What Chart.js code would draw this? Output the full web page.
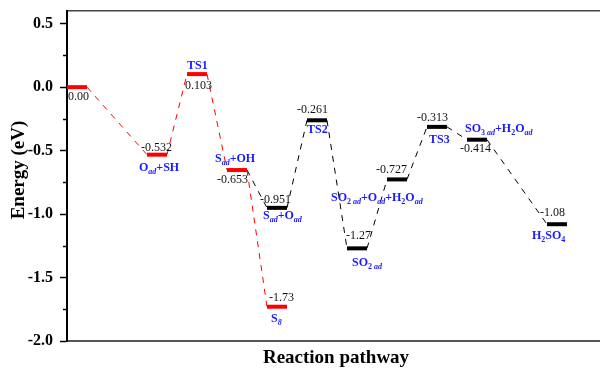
<!DOCTYPE html>
<html>
<head>
<meta charset="utf-8">
<script src="https://cdn.jsdelivr.net/npm/chart.js@4"></script>
<style>
  html, body { margin: 0; padding: 0; background: #fff; overflow: hidden; }
  #wrap { width: 600px; height: 372px; position: relative; }
</style>
</head>
<body>
<div id="wrap"><canvas id="c"></canvas></div>
<script>
// Energy profile of the reaction pathway (eV)
const stepPos = [0, 4, 6, 8, 10, 10, 12, 14, 16, 18, 20, 24];
const energy = [0.00, -0.532, 0.103, -0.653, -1.73, -0.951, -0.261, -1.27, -0.727, -0.313, -0.414, -1.08];
const energyText = ['0.00', '-0.532', '0.103', '-0.653', '-1.73', '-0.951', '-0.261', '-1.27', '-0.727', '-0.313', '-0.414', '-1.08'];
// _{..} upright subscript, _[..] italic subscript
const species = ['', 'O_[ad]+SH', 'TS1', 'S_[ad]+OH', 'S_[8]', 'S_[ad]+O_[ad]', 'TS2', 'SO_{2}_[ ad]',
  'SO_{2}_[ ad]+O_[ad]+H_{2}O_[ad]', 'TS3', 'SO_{3}_[ ad]+H_{2}O_[ad]', 'H_{2}SO_{4}'];
const redRoute = [0, 1, 2, 3, 4];
const blackRoute = [3, 5, 6, 7, 8, 9, 10, 11];
const yTicks = [-2.0, -1.5, -1.0, -0.5, 0.0, 0.5];
const yMinor = [-1.75, -1.25, -0.75, -0.25, 0.25];

// label placement relative to each level's left end (px)
const valueOffset = [[1, 10], [-6, -7], [-2, 12], [-10, 10], [2, -9], [-7, -8], [-10, -10], [-1, -13], [-11, -10], [-10, -9], [-7, 9], [-7, -11]];
const speciesOffset = [null, [-8, 12], [0, -9], [-12, -12], [4, 11], [-4, 7], [0, 9], [5, 14], [-56, 18], [2, 12], [-2, -12], [-15, 11]];

const RED = '#ff0000', BLACK = '#000000', BLUE = '#1a1aff';
const SERIF = "'Liberation Serif', 'Times New Roman', serif";
Chart.defaults.font.family = SERIF;

const isRed = i => i <= 4;
const datasets = [];

function addConnectors(route, color) {
  for (let k = 0; k + 1 < route.length; k++) {
    const a = route[k], b = route[k + 1];
    datasets.push({
      data: [{ x: stepPos[a] + 1, y: energy[a] }, { x: stepPos[b], y: energy[b] }],
      borderColor: color, borderWidth: 1, borderDash: [6, 6],
      pointRadius: 0, order: 2
    });
  }
}
addConnectors(redRoute, RED);
addConnectors(blackRoute, BLACK);

energy.forEach((e, i) => {
  datasets.push({
    data: [{ x: stepPos[i], y: e }, { x: stepPos[i] + 1, y: e }],
    borderColor: isRed(i) ? RED : BLACK, borderWidth: 4,
    pointRadius: 0, order: 1
  });
});

function parseRich(str) {
  const segs = [];
  const re = /_\{([^}]*)\}|_\[([^\]]*)\]|([^_]+)/g;
  let m;
  while ((m = re.exec(str))) {
    if (m[1] !== undefined) segs.push({ t: m[1], sub: true, it: false });
    else if (m[2] !== undefined) segs.push({ t: m[2], sub: true, it: true });
    else segs.push({ t: m[3], sub: false, it: false });
  }
  return segs;
}

function drawRich(ctx, str, x, yMid) {
  const base = yMid + 4;
  ctx.textBaseline = 'alphabetic';
  ctx.textAlign = 'left';
  ctx.fillStyle = BLUE;
  let cx = x;
  for (const s of parseRich(str)) {
    ctx.font = (s.it ? 'italic ' : '') + 'bold ' + (s.sub ? 8 : 12) + 'px ' + SERIF;
    ctx.fillText(s.t, cx, s.sub ? base + 3 : base);
    cx += ctx.measureText(s.t).width;
  }
}

const annotate = {
  id: 'annotate',
  afterDraw(chart) {
    const ctx = chart.ctx;
    const xs = chart.scales.x, ys = chart.scales.y;
    const area = chart.chartArea;
    ctx.save();
    // minor ticks on the energy axis
    ctx.strokeStyle = '#000';
    ctx.lineWidth = 1.5;
    yMinor.forEach(v => {
      const py = Math.round(ys.getPixelForValue(v)) + 0.5;
      ctx.beginPath();
      ctx.moveTo(area.left - 4, py);
      ctx.lineTo(area.left, py);
      ctx.stroke();
    });
    // level values and species names
    energy.forEach((e, i) => {
      const x0 = xs.getPixelForValue(stepPos[i]);
      const y0 = ys.getPixelForValue(e);
      ctx.font = '12px ' + SERIF;
      ctx.fillStyle = '#111';
      ctx.textAlign = 'left';
      ctx.textBaseline = 'middle';
      ctx.fillText(energyText[i], x0 + valueOffset[i][0], y0 + valueOffset[i][1]);
      if (species[i]) drawRich(ctx, species[i], x0 + speciesOffset[i][0], y0 + speciesOffset[i][1]);
    });
    // axis titles
    ctx.fillStyle = '#000';
    ctx.font = 'bold 19px ' + SERIF;
    ctx.textAlign = 'center';
    ctx.textBaseline = 'middle';
    ctx.fillText('Reaction pathway', 336, 358);
    ctx.translate(19, 170);
    ctx.rotate(-Math.PI / 2);
    ctx.fillText('Energy (eV)', 0, 0);
    ctx.restore();
  }
};

new Chart(document.getElementById('c'), {
  type: 'line',
  data: { datasets },
  options: {
    responsive: true,
    maintainAspectRatio: false,
    animation: false,
    layout: { padding: { left: 0, top: 11, right: 0, bottom: 0 } },
    plugins: { legend: { display: false }, tooltip: { enabled: false } },
    scales: {
      x: {
        type: 'linear', min: 0, max: 26.65,
        ticks: { display: false },
        grid: { display: false },
        border: { display: true, color: '#555', width: 2 },
        afterFit: s => { s.height = 31; s.paddingLeft = 0; s.paddingRight = 0; }
      },
      x2: {
        type: 'linear', position: 'top', min: 0, max: 26.65,
        ticks: { display: false },
        grid: { display: false },
        border: { display: true, color: '#444', width: 1.5 },
        afterFit: s => { s.height = 0; s.paddingLeft = 0; s.paddingRight = 0; }
      },
      y: {
        type: 'linear', min: -2.0, max: 0.6,
        afterBuildTicks: s => { s.ticks = yTicks.map(v => ({ value: v })); },
        ticks: {
          color: '#000', padding: 7,
          font: { size: 16, weight: 'bold', family: SERIF },
          callback: v => Number(v).toFixed(1)
        },
        grid: { drawOnChartArea: false, drawTicks: true, tickLength: 7, tickColor: '#000', tickWidth: 1.5 },
        border: { display: true, color: '#000', width: 2 },
        afterFit: s => { s.width = 67; s.paddingTop = 0; s.paddingBottom = 0; }
      }
    }
  },
  plugins: [annotate]
});
</script>
</body>
</html>
